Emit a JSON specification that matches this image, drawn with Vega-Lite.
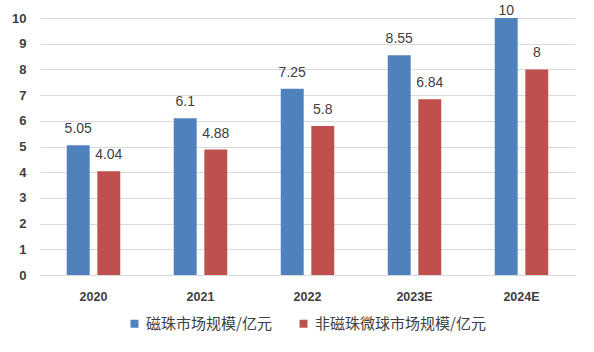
{
  "$schema": "https://vega.github.io/schema/vega-lite/v6.json",
  "width": 535,
  "height": 257,
  "autosize": {"type": "none"},
  "padding": {"left": 40, "top": 18, "right": 19, "bottom": 77},
  "background": "white",
  "data": {
    "values": [
      {"year": "2020", "series": "磁珠市场规模/亿元", "value": 5.05},
      {"year": "2020", "series": "非磁珠微球市场规模/亿元", "value": 4.04},
      {"year": "2021", "series": "磁珠市场规模/亿元", "value": 6.1},
      {"year": "2021", "series": "非磁珠微球市场规模/亿元", "value": 4.88},
      {"year": "2022", "series": "磁珠市场规模/亿元", "value": 7.25},
      {"year": "2022", "series": "非磁珠微球市场规模/亿元", "value": 5.8},
      {"year": "2023E", "series": "磁珠市场规模/亿元", "value": 8.55},
      {"year": "2023E", "series": "非磁珠微球市场规模/亿元", "value": 6.84},
      {"year": "2024E", "series": "磁珠市场规模/亿元", "value": 10},
      {"year": "2024E", "series": "非磁珠微球市场规模/亿元", "value": 8}
    ]
  },
  "encoding": {
    "x": {
      "field": "year", "type": "nominal", "sort": null,
      "scale": {"paddingInner": 0.5, "paddingOuter": 0.25},
      "axis": {"title": null, "labelAngle": 0, "ticks": false, "labelPadding": 15,
               "labelFont": "Liberation Sans", "labelFontSize": 12.5, "labelFontWeight": "bold",
               "labelColor": "#404040", "domainColor": "#d9d9d9", "domainWidth": 1}
    },
    "xOffset": {"field": "series", "type": "nominal",
                "sort": ["磁珠市场规模/亿元", "非磁珠微球市场规模/亿元"],
                "scale": {"paddingInner": 0.25, "paddingOuter": 0}},
    "y": {
      "field": "value", "type": "quantitative",
      "scale": {"domain": [0, 10], "nice": false},
      "axis": {"title": null, "values": [0,1,2,3,4,5,6,7,8,9,10], "labelOverlap": false,
               "ticks": false, "domain": false, "labelPadding": 14,
               "labelFont": "Liberation Sans", "labelFontSize": 13, "labelFontWeight": "bold",
               "labelColor": "#404040", "gridColor": "#d9d9d9", "gridWidth": 1}
    }
  },
  "layer": [
    {
      "mark": {"type": "bar"},
      "encoding": {
        "color": {
          "field": "series", "type": "nominal",
          "scale": {"domain": ["磁珠市场规模/亿元", "非磁珠微球市场规模/亿元"], "range": ["#4F81BD", "#C0504D"]},
          "legend": {"title": null, "orient": "none", "legendX": 87, "legendY": 298, "direction": "horizontal",
                     "symbolType": "square", "symbolSize": 64, "symbolStrokeWidth": 0,
                     "labelFont": "Noto Sans CJK SC", "labelFontSize": 15, "labelColor": "#404040",
                     "labelLimit": 400, "columnPadding": 24, "labelOffset": 4}
        }
      }
    },
    {
      "transform": [{"filter": "datum.value < 10"}],
      "mark": {"type": "text", "dy": -9, "baseline": "bottom", "font": "Liberation Sans", "fontSize": 14, "color": "#404040"},
      "encoding": {"text": {"field": "value", "type": "quantitative"}}
    },
    {
      "transform": [{"filter": "datum.value >= 10"}],
      "mark": {"type": "text", "dy": 0, "baseline": "bottom", "font": "Liberation Sans", "fontSize": 14, "color": "#404040"},
      "encoding": {"text": {"field": "value", "type": "quantitative"}}
    }
  ],
  "config": {"view": {"stroke": null}}
}
